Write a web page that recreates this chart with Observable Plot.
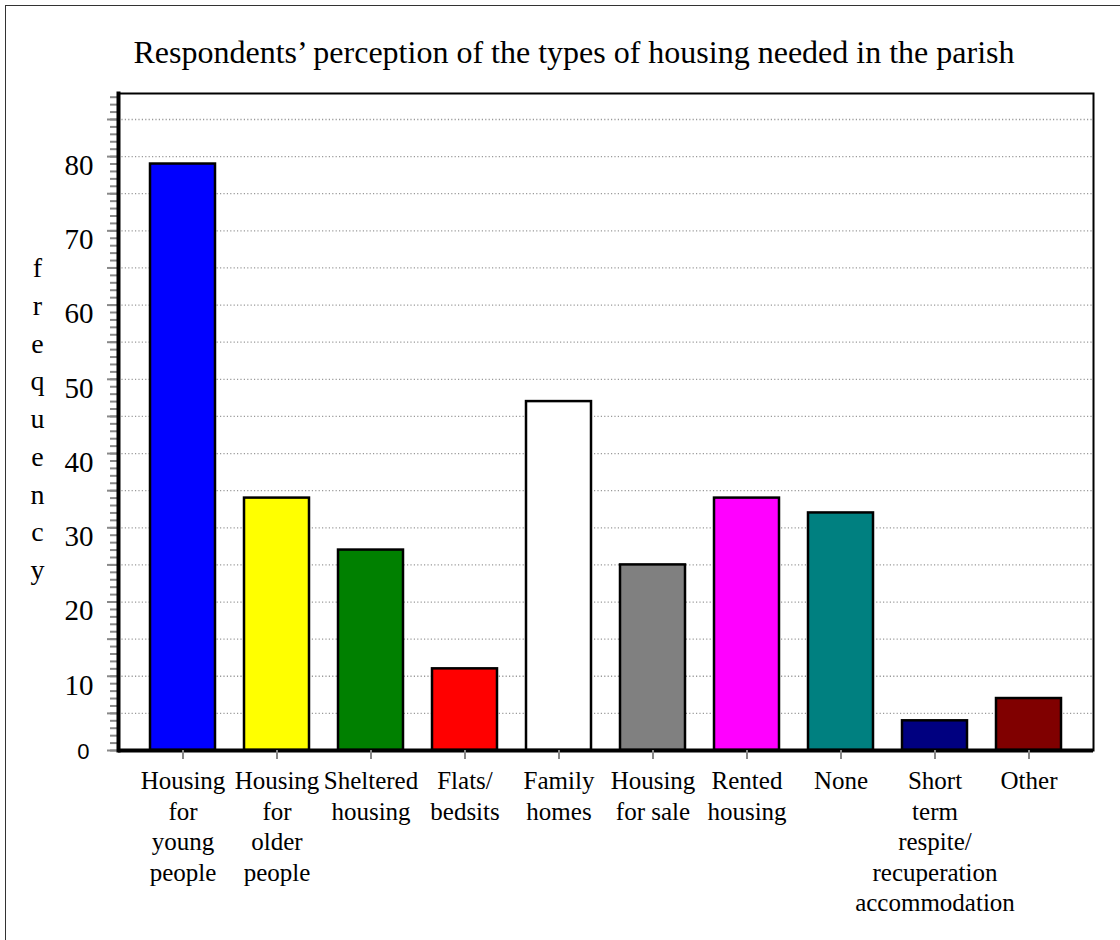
<!DOCTYPE html>
<html>
<head>
<meta charset="utf-8">
<script src="https://cdn.jsdelivr.net/npm/d3@7"></script>
<script src="https://cdn.jsdelivr.net/npm/@observablehq/plot@0.6"></script>
<style>
  html, body { margin: 0; padding: 0; background: #fff; overflow: hidden; }
  #page { position: relative; width: 1120px; height: 940px; }
  #border { position: absolute; left: 5px; top: 5px; width: 1200px; height: 1000px;
            border: 1.5px solid #333; box-sizing: border-box; }
  #title { position: absolute; left: 574px; top: 36px; transform: translateX(-50%);
           white-space: nowrap; font-family: "Liberation Serif", serif; font-size: 32px;
           line-height: 32px; color: #000; }
  #chart { position: absolute; left: 0; top: 80px; }
</style>
</head>
<body>
<div id="page">
  <div id="border"></div>
  <div id="title">Respondents’ perception of the types of housing needed in the parish</div>
  <div id="chart"></div>
</div>
<script>
// Survey answers: which types of housing the parish needs
const categories = [
  "Housing for young people",
  "Housing for older people",
  "Sheltered housing",
  "Flats/bedsits",
  "Family homes",
  "Housing for sale",
  "Rented housing",
  "None",
  "Short term respite/recuperation accommodation",
  "Other"
];
const frequencies = [79, 34, 27, 11, 47, 25, 34, 32, 4, 7];

// Tick labels as they are broken over lines under each bar
const tickLabels = [
  "Housing\nfor\nyoung\npeople",
  "Housing\nfor\nolder\npeople",
  "Sheltered\nhousing",
  "Flats/\nbedsits",
  "Family\nhomes",
  "Housing\nfor sale",
  "Rented\nhousing",
  "None",
  "Short\nterm\nrespite/\nrecuperation\naccommodation",
  "Other"
];
const barColors = ["#0000ff", "#ffff00", "#008000", "#ff0000", "#ffffff",
                   "#808080", "#ff00ff", "#008080", "#000080", "#800000"];

const yLabelTicks = [10, 20, 30, 40, 50, 60, 70, 80];
const yTitle = "frequency";

const serif = "'Liberation Serif', 'Times New Roman', serif";
const sans = "'Liberation Sans', Arial, sans-serif";

const data = categories.map((category, i) => ({category, frequency: frequencies[i]}));

const chart = Plot.plot({
  width: 1120,
  height: 855,
  marginTop: 13,
  marginLeft: 118,
  marginRight: 27,
  marginBottom: 185,
  style: {background: "transparent", color: "black", fontFamily: serif},
  x: {domain: categories, paddingInner: 0.31, paddingOuter: 0.325, label: null},
  y: {domain: [0, 88.5], label: null},
  color: {domain: categories, range: barColors},
  marks: [
    // dotted grid every 5
    Plot.ruleY(d3.range(5, 89, 5), {stroke: "#999", strokeWidth: 1.3, strokeDasharray: "1.2,2.2"}),
    // minor and major tick marks on the value axis
    Plot.axisY(d3.range(0, 89), {tickSize: 8, stroke: "#888", strokeWidth: 2, tickFormat: () => "", label: null}),
    Plot.axisY(d3.range(0, 89, 5), {tickSize: 11, stroke: "#888", strokeWidth: 2, tickFormat: () => "", label: null}),
    Plot.axisY(yLabelTicks, {tickSize: 0, tickPadding: 25, fontSize: 29, dy: 9, fontFamily: serif, label: null}),
    Plot.text([0], {y: d => d, frameAnchor: "left", dx: -29, dy: 1, textAnchor: "end",
                    fontFamily: sans, fontSize: 22}),
    // bars
    Plot.barY(data, {x: "category", y: "frequency", fill: "category", stroke: "black", strokeWidth: 2.5}),
    // plot frame with heavier left and bottom axis lines
    Plot.frame({stroke: "black", strokeWidth: 2}),
    Plot.frame({anchor: "left", stroke: "black", strokeWidth: 4}),
    Plot.ruleY([0], {stroke: "black", strokeWidth: 4}),
    // category ticks and labels
    Plot.axisX({tickSize: 9, stroke: "#888", strokeWidth: 2, tickFormat: () => "", label: null}),
    Plot.text(categories, {x: d => d, text: (d, i) => tickLabels[i], frameAnchor: "bottom",
                           lineAnchor: "top", dy: 17, fontSize: 25, lineHeight: 1.22, fontFamily: serif}),
    // stacked axis title
    Plot.text([yTitle.split("").join("\n")], {frameAnchor: "left", dx: -81, dy: -6,
                           textAnchor: "middle", fontSize: 28, lineHeight: 1.35, fontFamily: serif})
  ]
});

document.getElementById("chart").appendChild(chart);
</script>
</body>
</html>
